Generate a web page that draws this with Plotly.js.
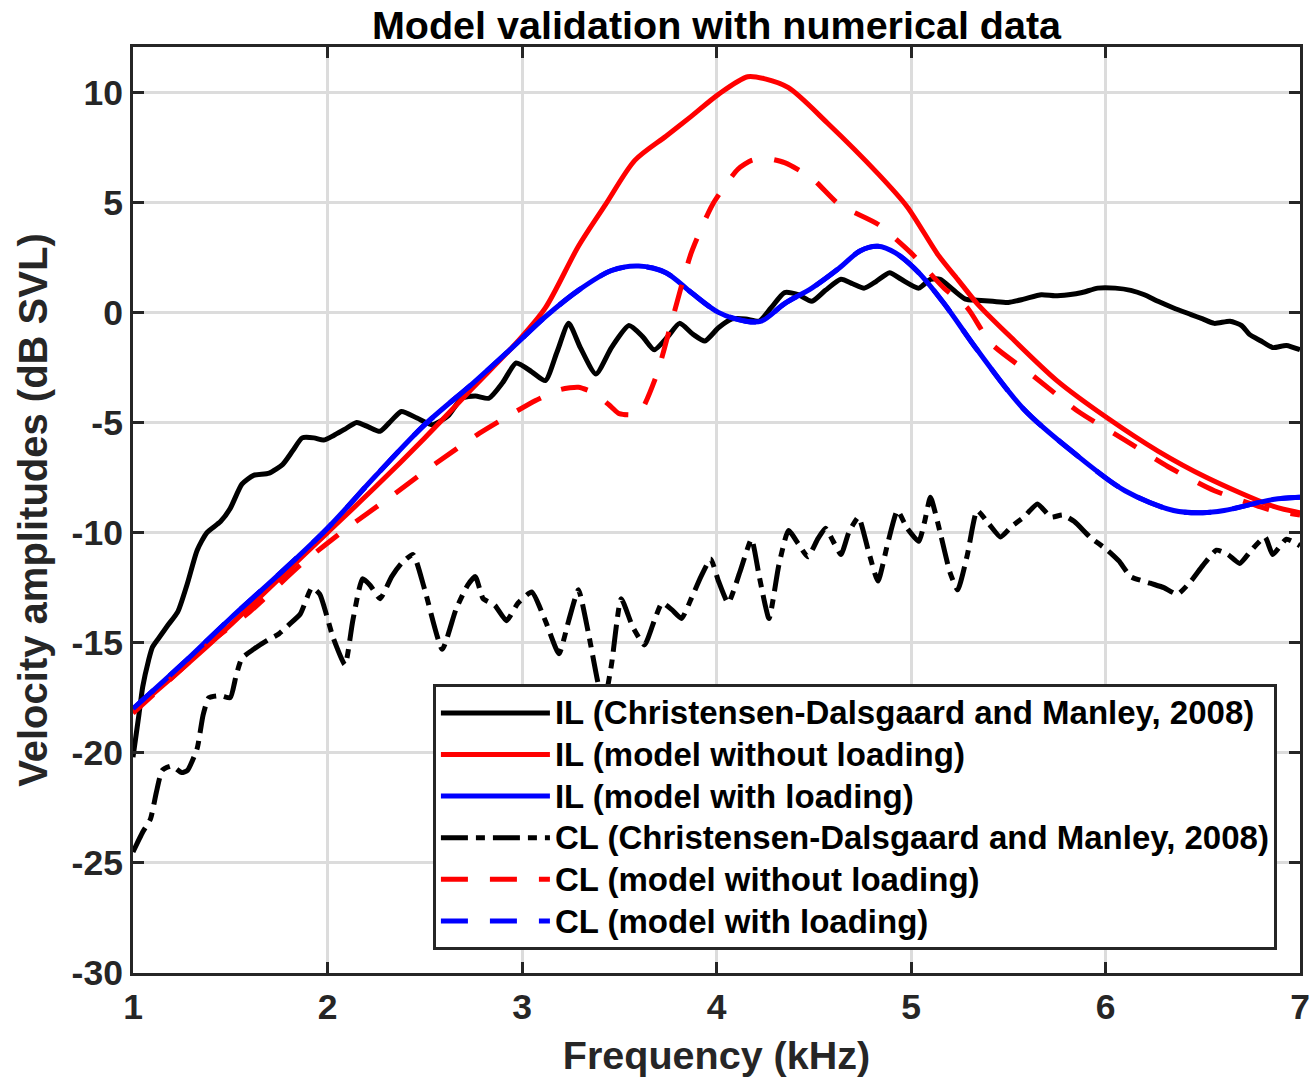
<!DOCTYPE html>
<html>
<head>
<meta charset="utf-8">
<script src="https://cdn.plot.ly/plotly-3.0.1.min.js"></script>
<style>
html,body{margin:0;padding:0;background:#fff;}
#chart{width:1311px;height:1080px;}
text.legendtext{font-size:33px !important;}
</style>
</head>
<body>
<div id="chart"></div>
<script>
// ---- Data ----
const ilDataFreq = [1.00,1.03,1.05,1.08,1.10,1.14,1.18,1.23,1.28,1.33,1.38,1.45,1.50,1.56,1.62,1.70,1.77,1.82,1.87,1.93,1.98,2.03,2.09,2.15,2.21,2.27,2.33,2.38,2.46,2.54,2.62,2.69,2.76,2.83,2.90,2.97,3.05,3.12,3.18,3.24,3.30,3.38,3.46,3.55,3.62,3.68,3.75,3.81,3.88,3.94,4.01,4.08,4.15,4.22,4.28,4.35,4.42,4.49,4.56,4.64,4.70,4.76,4.82,4.89,4.95,5.04,5.10,5.15,5.22,5.28,5.34,5.42,5.50,5.58,5.67,5.74,5.81,5.88,5.96,6.05,6.13,6.20,6.27,6.35,6.44,6.50,6.56,6.64,6.70,6.74,6.80,6.86,6.93,7.00];
const ilDataAmp = [-20.2,-18.3,-17.0,-15.8,-15.2,-14.7,-14.2,-13.6,-12.3,-10.8,-10.0,-9.5,-8.9,-7.8,-7.4,-7.3,-6.9,-6.3,-5.7,-5.7,-5.8,-5.6,-5.3,-5.0,-5.2,-5.4,-4.9,-4.5,-4.8,-5.1,-4.7,-3.9,-3.8,-3.9,-3.2,-2.3,-2.7,-3.1,-1.8,-0.5,-1.6,-2.8,-1.6,-0.6,-1.1,-1.7,-1.1,-0.5,-1.0,-1.3,-0.7,-0.3,-0.3,-0.4,0.2,0.9,0.8,0.5,1.0,1.5,1.3,1.1,1.4,1.8,1.5,1.1,1.5,1.5,1.0,0.6,0.55,0.5,0.45,0.6,0.8,0.75,0.8,0.9,1.1,1.1,1.0,0.8,0.5,0.2,-0.1,-0.3,-0.5,-0.4,-0.6,-1.0,-1.3,-1.6,-1.5,-1.7];

const ilNoLoadFreq = [1.00,1.25,1.50,1.75,2.00,2.25,2.50,2.75,2.98,3.12,3.29,3.43,3.58,3.74,3.87,4.01,4.16,4.25,4.37,4.57,4.83,4.98,5.14,5.24,5.34,5.51,5.75,6.01,6.27,6.52,6.86,7.00];
const ilNoLoadAmp = [-18.1,-16.2,-14.2,-12.1,-10.0,-7.9,-5.7,-3.4,-1.3,0.2,3.0,4.9,6.9,8.0,8.9,9.9,10.7,10.6,10.2,8.6,6.3,4.8,2.6,1.5,0.4,-1.1,-3.1,-4.8,-6.3,-7.5,-8.8,-9.1];

const ilLoadFreq = [1.00,1.25,1.50,1.75,2.00,2.25,2.50,2.75,2.95,3.12,3.29,3.46,3.60,3.74,3.87,4.01,4.15,4.23,4.35,4.49,4.63,4.74,4.83,4.92,5.04,5.17,5.34,5.58,5.84,6.10,6.35,6.50,6.61,6.86,7.00];
const ilLoadAmp = [-18.0,-16.0,-13.9,-11.9,-9.8,-7.4,-5.1,-3.2,-1.6,-0.2,1.0,1.9,2.1,1.8,0.9,0.0,-0.4,-0.4,0.4,1.1,2.0,2.8,3.0,2.7,1.8,0.4,-1.7,-4.4,-6.4,-8.1,-9.0,-9.1,-9.0,-8.5,-8.4];

const clDataFreq = [1.00,1.05,1.09,1.12,1.15,1.20,1.25,1.28,1.33,1.36,1.39,1.45,1.50,1.53,1.56,1.62,1.69,1.75,1.80,1.86,1.92,1.96,2.03,2.09,2.13,2.18,2.22,2.27,2.33,2.38,2.44,2.50,2.59,2.66,2.72,2.76,2.80,2.86,2.92,2.98,3.05,3.12,3.19,3.24,3.29,3.34,3.39,3.42,3.46,3.51,3.57,3.63,3.68,3.72,3.77,3.82,3.87,3.92,3.97,4.01,4.06,4.12,4.18,4.22,4.27,4.32,4.37,4.42,4.47,4.52,4.56,4.60,4.64,4.68,4.73,4.78,4.83,4.88,4.93,4.98,5.04,5.07,5.10,5.15,5.20,5.24,5.29,5.34,5.40,5.46,5.52,5.58,5.65,5.72,5.78,5.84,5.92,6.01,6.07,6.13,6.23,6.30,6.37,6.44,6.50,6.57,6.63,6.69,6.75,6.82,6.86,6.93,7.00];
const clDataAmp = [-24.5,-23.6,-23.0,-21.8,-20.8,-20.6,-20.9,-20.8,-19.8,-18.3,-17.5,-17.4,-17.5,-16.5,-15.7,-15.3,-14.9,-14.6,-14.2,-13.7,-12.5,-12.8,-14.8,-16.0,-14.0,-12.1,-12.4,-13.0,-12.0,-11.4,-11.0,-12.6,-15.3,-13.5,-12.4,-12.0,-13.0,-13.3,-14.0,-13.2,-12.7,-14.0,-15.5,-14.0,-12.6,-14.5,-16.8,-17.8,-16.0,-13.0,-14.3,-15.1,-14.0,-13.2,-13.5,-13.9,-13.0,-12.0,-11.2,-12.2,-13.2,-11.8,-10.3,-12.0,-13.9,-11.5,-9.9,-10.5,-11.1,-10.3,-9.8,-10.4,-11.0,-10.0,-9.3,-10.8,-12.2,-10.5,-9.0,-9.8,-10.4,-9.5,-8.4,-10.0,-11.8,-12.6,-11.0,-9.0,-9.6,-10.2,-9.7,-9.3,-8.7,-9.3,-9.2,-9.5,-10.2,-10.8,-11.3,-12.0,-12.3,-12.5,-12.8,-12.2,-11.5,-10.8,-11.0,-11.4,-10.8,-10.2,-11.0,-10.3,-10.6];

const clNoLoadFreq = [1.00,1.20,1.41,1.60,1.87,2.10,2.32,2.55,2.78,3.07,3.20,3.29,3.38,3.46,3.50,3.60,3.69,3.77,3.87,3.98,4.11,4.18,4.25,4.35,4.49,4.63,4.83,5.00,5.17,5.29,5.41,5.63,5.86,6.10,6.32,6.56,6.86,7.00];
const clNoLoadAmp = [-18.2,-16.6,-14.9,-13.6,-11.4,-9.8,-8.4,-6.9,-5.5,-4.0,-3.5,-3.4,-3.7,-4.3,-4.6,-4.6,-2.9,-0.4,2.7,4.9,6.5,6.9,7.0,6.8,6.1,4.9,4.0,2.7,1.1,0.2,-1.4,-2.9,-4.5,-5.8,-7.0,-8.1,-9.0,-9.2];

// CL model with loading: not distinguishable from the IL model-with-loading curve in the picture
const clLoadFreq = ilLoadFreq;
const clLoadAmp = ilLoadAmp;

const seriesNames = [
  'IL (Christensen-Dalsgaard and Manley, 2008)',
  'IL (model without loading)',
  'IL (model with loading)',
  'CL (Christensen-Dalsgaard and Manley, 2008)',
  'CL (model without loading)',
  'CL (model with loading)'
];
const xTicks = [1,2,3,4,5,6,7];
const yTicks = [-30,-25,-20,-15,-10,-5,0,5,10];

// ---- Styles ----
const FONT = 'Liberation Sans, Arial, Helvetica, sans-serif';
const LW = 5;
const DASH_DOT = '27px,8px,9px,8px';
const DASH = '27px,22px';

const traces = [
  {x: ilDataFreq, y: ilDataAmp, name: seriesNames[0], line: {color: '#000000', width: LW, dash: 'solid', shape: 'spline', smoothing: 0.6}},
  {x: ilNoLoadFreq, y: ilNoLoadAmp, name: seriesNames[1], line: {color: '#ff0000', width: LW, dash: 'solid', shape: 'spline', smoothing: 0.8}},
  {x: ilLoadFreq, y: ilLoadAmp, name: seriesNames[2], line: {color: '#0000ff', width: LW, dash: 'solid', shape: 'spline', smoothing: 0.9}},
  {x: clDataFreq, y: clDataAmp, name: seriesNames[3], line: {color: '#000000', width: LW, dash: DASH_DOT, shape: 'spline', smoothing: 0.5}},
  {x: clNoLoadFreq, y: clNoLoadAmp, name: seriesNames[4], line: {color: '#ff0000', width: LW, dash: DASH, shape: 'spline', smoothing: 0.6}},
  {x: clLoadFreq, y: clLoadAmp, name: seriesNames[5], line: {color: '#0000ff', width: LW, dash: DASH, shape: 'spline', smoothing: 0.9}}
].map(t => Object.assign({type: 'scatter', mode: 'lines', hoverinfo: 'skip'}, t));

const axisCommon = {
  showline: true, linecolor: '#262626', linewidth: 3, mirror: 'ticks',
  ticks: 'inside', ticklen: 11, tickwidth: 3, tickcolor: '#262626',
  showgrid: true, gridcolor: '#dcdcdc', gridwidth: 3, zeroline: false,
  ticklabeloverflow: 'allow',
  tickfont: {family: FONT, size: 35.5, color: '#262626', weight: 'bold'}
};

const layout = {
  width: 1311, height: 1080, autosize: false,
  margin: {l: 133, r: 11, t: 47, b: 107},
  paper_bgcolor: '#ffffff', plot_bgcolor: '#ffffff',
  font: {family: FONT, color: '#262626'},
  title: {
    text: 'Model validation with numerical data',
    font: {family: FONT, size: 39.5, color: '#000000', weight: 'bold'},
    x: 0.5, xref: 'paper', xanchor: 'center',
    y: 0.977, yref: 'container', yanchor: 'middle'
  },
  xaxis: Object.assign({}, axisCommon, {
    range: [1, 7], tickmode: 'array', tickvals: xTicks, ticktext: xTicks.map(String),
    title: {text: 'Frequency (kHz)', font: {family: FONT, size: 39.5, color: '#262626', weight: 'bold'}, standoff: 16}
  }),
  yaxis: Object.assign({}, axisCommon, {
    range: [-30, 12.05], tickmode: 'array', tickvals: yTicks, ticktext: yTicks.map(String),
    ticklabelstandoff: 0,
    title: {text: 'Velocity amplitudes (dB SVL)', font: {family: FONT, size: 40, color: '#262626', weight: 'bold'}, standoff: 12}
  }),
  showlegend: true,
  legend: {
    x: 0.257, y: 0.312, xanchor: 'left', yanchor: 'top', xref: 'paper', yref: 'paper',
    bgcolor: '#ffffff', bordercolor: '#262626', borderwidth: 3,
    font: {family: FONT, size: 29.7, color: '#000000', weight: 'bold'},
    itemwidth: 109, tracegroupgap: 0, traceorder: 'normal'
  }
};

Plotly.newPlot('chart', traces, layout, {displayModeBar: false, staticPlot: true});
</script>
</body>
</html>
